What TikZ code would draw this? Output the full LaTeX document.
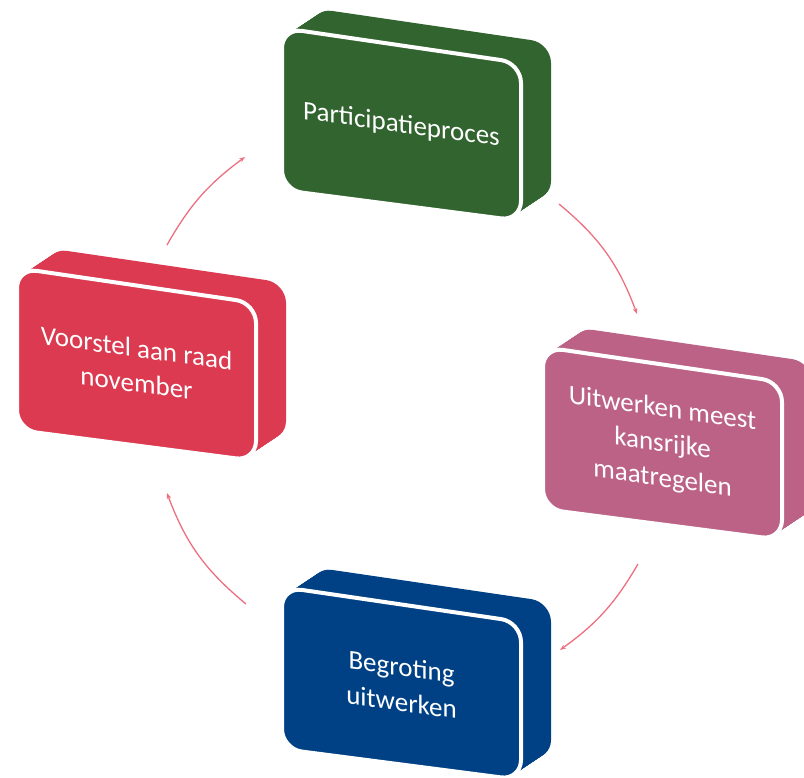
\documentclass[tikz,border=0pt]{standalone}
\usepackage{fontspec}
\setmainfont{Carlito}
\usetikzlibrary{arrows.meta}
\definecolor{cgreen}{RGB}{50,100,48}
\definecolor{cpink}{RGB}{188,98,135}
\definecolor{cred}{RGB}{219,58,80}
\definecolor{cblue}{RGB}{0,65,133}
\definecolor{carrow}{RGB}{236,112,128}
\tikzset{
  boxtext/.style={text=white, align=center, inner sep=0pt, font=\fontsize{27pt}{35pt}\selectfont},
  cyclearrow/.style={draw=carrow, line width=1.3pt, -{Stealth[length=6pt,width=4.5pt]}},
  faceborder/.style={draw=white, line width=4pt, rounded corners=20pt},
}
\newcommand{\boxthreed}[5]{%
  \foreach \t in {0,1,...,30}{%
    \fill[#3, rounded corners=20pt, shift={(#1+\t,#2-\t*0.6667)}] (0,0) -- (239,35) -- (239,193) -- (0,162) -- cycle;
  }%
  \path[faceborder, fill=#3, shift={(#1,#2)}] (0,0) -- (239,35) -- (239,193) -- (0,162) -- cycle;
  \begin{scope}[shift={(#1+119.5,#2+97.5)}, yslant=-0.1385]
    \node[boxtext, transform shape] (#4) at (0,0) {#5};
  \end{scope}
}
\begin{document}
\begin{tikzpicture}[x=1pt, y=-1pt]
\useasboundingbox (0,0) rectangle (804,778);
\clip (0,0) rectangle (804,778);
\boxthreed{282}{28}{cgreen}{part}{Participatieproces}
\boxthreed{543}{347}{cpink}{uitw}{Uitwerken meest\\kansrijke\\maatregelen}
\boxthreed{282}{587}{cblue}{begr}{Begroting\\uitwerken}
\boxthreed{17}{268}{cred}{voor}{Voorstel aan raad\\november}
\coordinate (a1s) at (559,204);
\coordinate (a1e) at (637,314);
\coordinate (a2s) at (638,564);
\coordinate (a2e) at (560,650);
\coordinate (a3s) at (246,604);
\coordinate (a3e) at (167,493);
\coordinate (a4s) at (167,245);
\coordinate (a4e) at (245,157);
\draw[cyclearrow] (a1s) to[bend left=15] (a1e);
\draw[cyclearrow] (a2s) to[bend left=12] (a2e);
\draw[cyclearrow] (a3s) to[bend left=15] (a3e);
\draw[cyclearrow] (a4s) to[bend left=12] (a4e);
\end{tikzpicture}
\end{document}
